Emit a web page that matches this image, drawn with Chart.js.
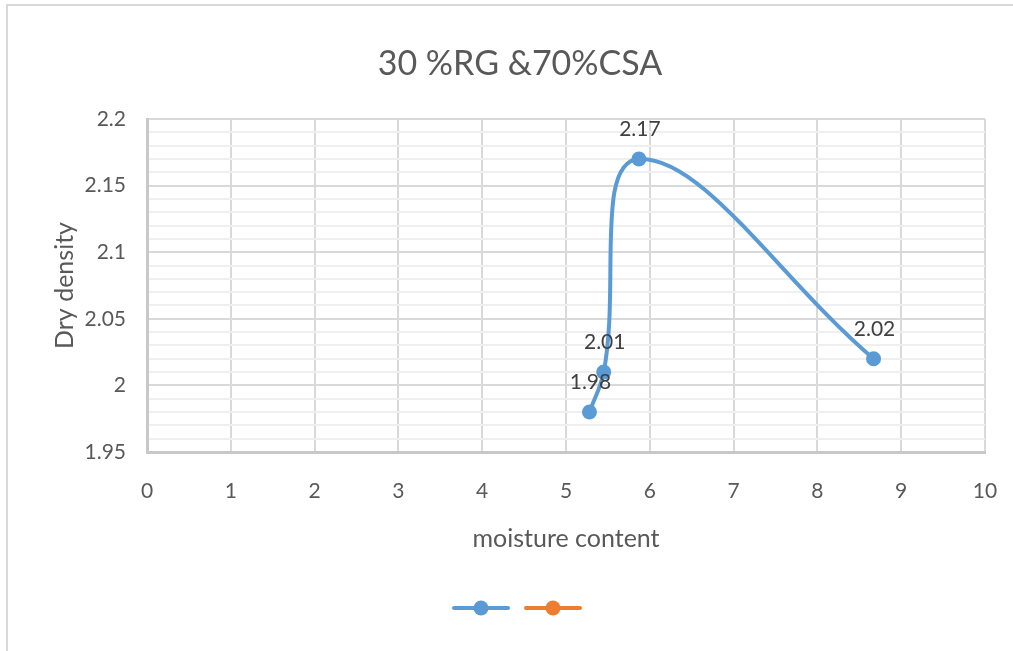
<!DOCTYPE html>
<html lang="en">
<head>
    <meta charset="UTF-8">
    <title>30 %RG &70%CSA</title>
    <script src="https://cdn.jsdelivr.net/npm/chart.js"></script>
    <style>
        html, body { margin: 0; padding: 0; background: #fff; }
        #wrap { position: relative; width: 1013px; height: 651px; }
    </style>
</head>
<body>
    <div id="wrap">
        <canvas id="myChart" width="1013" height="651"></canvas>
    </div>

    <script type="text/javascript">
        // compaction data (moisture content vs dry density)
        var moisture = [5.28, 5.45, 5.87, 8.67];
        var density = [1.98, 2.01, 2.17, 2.02];

        var chartTitle = '30 %RG &70%CSA';
        var xTitle = 'moisture content';
        var yTitle = 'Dry density';
        var yTickLabels = ['1.95', '2', '2.05', '2.1', '2.15', '2.2'];
        var xTickLabels = ['0', '1', '2', '3', '4', '5', '6', '7', '8', '9', '10'];

        var BLUE = '#5b9bd5';
        var ORANGE = '#ed7d31';
        var TEXT = '#595959';
        var FONT = 'Lato, "Open Sans", sans-serif';

        var points = [];
        for (var i = 0; i < moisture.length; i++) {
            points.push({ x: moisture[i], y: density[i] });
        }

        function isMajor(v) {
            return Math.round(v * 100) % 5 === 0;
        }

        // frame, title, data labels and legend drawn on the canvas
        var decorPlugin = {
            id: 'decor',
            beforeDraw: function(chart) {
                var ctx = chart.ctx;
                ctx.save();
                ctx.strokeStyle = '#d9d9d9';
                ctx.lineWidth = 2;
                ctx.beginPath();
                ctx.moveTo(7, 651);
                ctx.lineTo(7, 5);
                ctx.lineTo(1013, 5);
                ctx.stroke();
                ctx.restore();
            },
            afterDraw: function(chart) {
                var ctx = chart.ctx;
                ctx.save();
                // title
                ctx.fillStyle = TEXT;
                ctx.font = '34px ' + FONT;
                ctx.textAlign = 'center';
                ctx.textBaseline = 'middle';
                ctx.fillText(chartTitle, 520, 64);

                // value labels above the points
                var meta = chart.getDatasetMeta(0);
                ctx.fillStyle = '#404040';
                ctx.font = '21px ' + FONT;
                meta.data.forEach(function(pt, idx) {
                    ctx.fillText(String(density[idx]), pt.x + 1, pt.y - 30);
                });

                // legend (line + marker, no text)
                var items = [
                    { color: BLUE, cx: 481 },
                    { color: ORANGE, cx: 553 }
                ];
                items.forEach(function(it) {
                    ctx.strokeStyle = it.color;
                    ctx.lineWidth = 4;
                    ctx.lineCap = 'round';
                    ctx.beginPath();
                    ctx.moveTo(it.cx - 27, 608);
                    ctx.lineTo(it.cx + 27, 608);
                    ctx.stroke();
                    ctx.fillStyle = it.color;
                    ctx.beginPath();
                    ctx.arc(it.cx, 608, 7.5, 0, Math.PI * 2);
                    ctx.fill();
                });
                ctx.restore();
            }
        };

        const ctx = document.querySelector('#myChart');
        const myChart = new Chart(ctx, {
            type: 'scatter',
            data: {
                datasets: [{
                    label: '',
                    data: points,
                    showLine: true,
                    tension: 0.4,
                    borderColor: BLUE,
                    backgroundColor: BLUE,
                    borderWidth: 4,
                    pointRadius: 7.5,
                    pointHoverRadius: 7.5,
                    pointBorderWidth: 0
                }, {
                    label: '',
                    data: [],
                    showLine: true,
                    borderColor: ORANGE,
                    backgroundColor: ORANGE
                }]
            },
            options: {
                responsive: false,
                animation: false,
                layout: {
                    padding: { left: 0, right: 28, top: 119, bottom: 89 }
                },
                plugins: {
                    legend: { display: false },
                    title: { display: false },
                    tooltip: { enabled: false }
                },
                scales: {
                    x: {
                        type: 'linear',
                        min: 0,
                        max: 10,
                        afterFit: function(scale) {
                            scale.height = 110;
                            scale.paddingLeft = 0;
                            scale.paddingRight = 0;
                        },
                        ticks: {
                            stepSize: 1,
                            padding: 27,
                            color: TEXT,
                            font: { family: FONT, size: 21 },
                            callback: function(v) { return xTickLabels[Math.round(v)]; }
                        },
                        grid: {
                            color: '#d9d9d9',
                            lineWidth: 2,
                            drawTicks: false
                        },
                        border: { color: '#c8c8c8', width: 3 },
                        title: {
                            display: true,
                            text: xTitle,
                            color: TEXT,
                            font: { family: FONT, size: 25 },
                            padding: { top: 0, bottom: 8 }
                        }
                    },
                    y: {
                        min: 1.95,
                        max: 2.2,
                        afterFit: function(scale) {
                            scale.width = 147;
                            scale.paddingTop = 0;
                            scale.paddingBottom = 0;
                        },
                        ticks: {
                            stepSize: 0.01,
                            autoSkip: false,
                            padding: 21,
                            color: TEXT,
                            font: { family: FONT, size: 21 },
                            callback: function(v) {
                                if (!isMajor(v)) return '';
                                var k = Math.round((v - 1.95) / 0.05);
                                return yTickLabels[k];
                            }
                        },
                        grid: {
                            drawTicks: false,
                            lineWidth: 2,
                            color: function(c) {
                                return isMajor(c.tick.value) ? '#d9d9d9' : '#efefef';
                            }
                        },
                        border: { color: '#c8c8c8', width: 3 },
                        title: {
                            display: true,
                            text: yTitle,
                            color: TEXT,
                            font: { family: FONT, size: 25 },
                            padding: { top: 50, bottom: 0 }
                        }
                    }
                }
            },
            plugins: [decorPlugin]
        });
    </script>
</body>
</html>
